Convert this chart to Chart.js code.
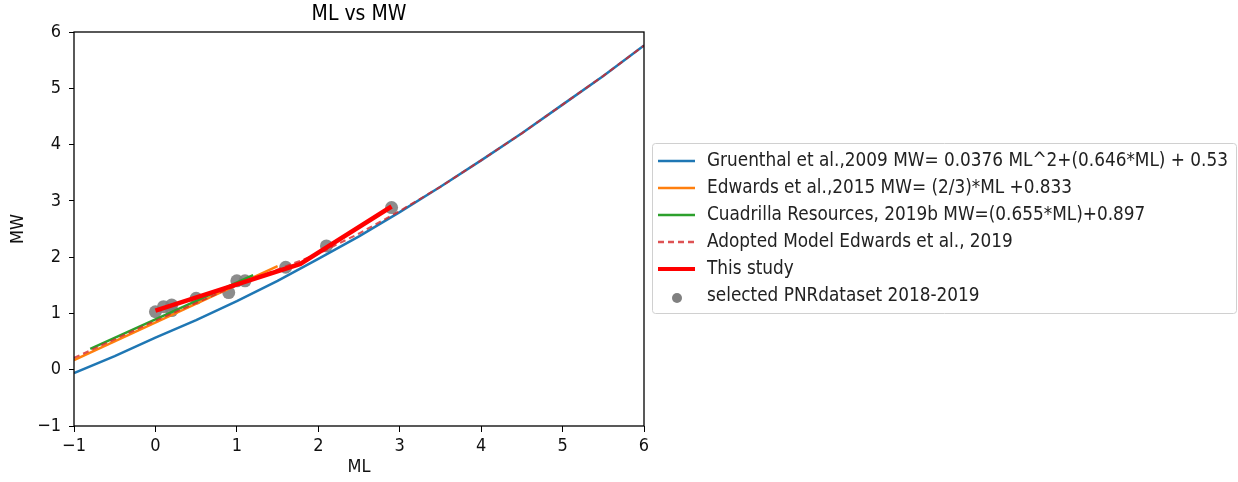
<!DOCTYPE html>
<html>
<head>
<meta charset="utf-8">
<script src="https://cdn.jsdelivr.net/npm/chart.js@4.4.1/dist/chart.umd.min.js"></script>
<style>
  html, body { margin: 0; padding: 0; background: #fff; }
  #wrap { width: 1238px; height: 482px; }
</style>
</head>
<body>
<div id="wrap"><canvas id="mlChart" width="1238" height="482"></canvas></div>
<script>
// ================= DATA =================
const gruenthalML = [-1, -0.5, 0, 0.5, 1, 1.5, 2, 2.5, 3, 3.5, 4, 4.5, 5, 5.5, 6];
const gruenthalMW = [-0.06, 0.24, 0.57, 0.88, 1.22, 1.58, 1.97, 2.37, 2.80, 3.25, 3.72, 4.20, 4.71, 5.22, 5.76];

const edwards15ML = [-1, 1.5];
const edwards15MW = [0.17, 1.84];

const cuadrillaML = [-0.8, 1.2];
const cuadrillaMW = [0.37, 1.68];

const adoptedML = [-1, 0, 1, 2, 2.5, 3, 3.5, 4, 4.5, 5, 5.5, 6];
const adoptedMW = [0.21, 0.87, 1.50, 2.06, 2.42, 2.82, 3.25, 3.72, 4.20, 4.71, 5.22, 5.76];

const studyML = [0, 1.78, 2.9];
const studyMW = [1.05, 1.88, 2.9];

const pnrML = [0, 0.1, 0.2, 0.2, 0.5, 0.9, 1.0, 1.1, 1.6, 2.1, 2.9];
const pnrMW = [1.03, 1.12, 1.15, 1.05, 1.27, 1.37, 1.58, 1.58, 1.82, 2.2, 2.88];

const tickValues = [-1, 0, 1, 2, 3, 4, 5, 6];

const labels = [
  "Gruenthal et al.,2009 MW= 0.0376 ML^2+(0.646*ML) + 0.53",
  "Edwards et al.,2015 MW= (2/3)*ML +0.833",
  "Cuadrilla Resources, 2019b MW=(0.655*ML)+0.897",
  "Adopted Model Edwards et al., 2019",
  "This study",
  "selected PNRdataset 2018-2019"
];

const toXY = (xs, ys) => xs.map((x, i) => ({ x: x, y: ys[i] }));
const minus = v => String(v).replace("-", "\u2212");
const FONT = "'DejaVu Sans Condensed', 'DejaVu Sans', sans-serif";
const DASHED_RED = "rgba(214,39,40,0.8)";

// ================= FRAME / TITLE / LEGEND =================
const framePlugin = {
  id: "frame",
  afterDraw(chart) {
    const ctx = chart.ctx;
    const a = chart.chartArea;
    ctx.save();
    ctx.strokeStyle = "#000";
    ctx.lineWidth = 1.3;
    ctx.strokeRect(a.left, a.top, a.right - a.left, a.bottom - a.top);

    // title
    ctx.fillStyle = "#000";
    ctx.font = "21px " + FONT;
    ctx.textAlign = "center";
    ctx.textBaseline = "middle";
    ctx.fillText("ML vs MW", (a.left + a.right) / 2, 15);

    // legend box
    const bx = 652, by = 143, bw = 585, bh = 170;
    ctx.fillStyle = "#fff";
    ctx.strokeStyle = "#d0d0d0";
    ctx.lineWidth = 1;
    ctx.beginPath();
    ctx.roundRect(bx + 0.5, by + 0.5, bw - 1, bh, 3);
    ctx.fill();
    ctx.stroke();

    const styles = [
      { c: "#1f77b4", w: 2.5, d: [] },
      { c: "#ff7f0e", w: 2.5, d: [] },
      { c: "#2ca02c", w: 2.5, d: [] },
      { c: DASHED_RED, w: 2.5, d: [6, 4] },
      { c: "#ff0000", w: 4, d: [] },
      null
    ];
    ctx.font = "18.8px " + FONT;
    ctx.textAlign = "left";
    labels.forEach((txt, i) => {
      const y = 161 + i * 27;
      const s = styles[i];
      if (s) {
        ctx.strokeStyle = s.c;
        ctx.lineWidth = s.w;
        ctx.setLineDash(s.d);
        ctx.beginPath();
        ctx.moveTo(658, y);
        ctx.lineTo(695, y);
        ctx.stroke();
        ctx.setLineDash([]);
      } else {
        ctx.fillStyle = "#808080";
        ctx.beginPath();
        ctx.arc(677, y + 2, 5, 0, Math.PI * 2);
        ctx.fill();
      }
      ctx.fillStyle = "#222";
      ctx.fillText(txt, 707, y);
    });
    ctx.restore();
  }
};

// ================= CHART =================
function lineSet(label, xs, ys, color, width, dash) {
  return {
    label: label,
    data: toXY(xs, ys),
    showLine: true,
    borderColor: color,
    backgroundColor: color,
    borderWidth: width,
    borderDash: dash || [],
    pointRadius: 0,
    tension: 0,
    fill: false
  };
}

window.onload = () => {
  new Chart(document.getElementById("mlChart"), {
    type: "scatter",
    data: {
      datasets: [
        lineSet(labels[4], studyML, studyMW, "#ff0000", 4.5),
        lineSet(labels[3], adoptedML, adoptedMW, DASHED_RED, 2, [6, 4]),
        lineSet(labels[2], cuadrillaML, cuadrillaMW, "#2ca02c", 2.5),
        lineSet(labels[1], edwards15ML, edwards15MW, "#ff7f0e", 2.5),
        lineSet(labels[0], gruenthalML, gruenthalMW, "#1f77b4", 2.5),
        {
          label: labels[5],
          data: toXY(pnrML, pnrMW),
          pointRadius: 6.5,
          pointBackgroundColor: "rgba(128,128,128,0.9)",
          pointBorderWidth: 0,
          showLine: false
        }
      ]
    },
    options: {
      responsive: false,
      animation: false,
      layout: { padding: { left: 0, top: 32, right: 594, bottom: 0 } },
      plugins: { legend: { display: false }, tooltip: { enabled: false } },
      scales: {
        x: {
          type: "linear",
          min: -1,
          max: 6,
          afterBuildTicks: s => { s.ticks = tickValues.map(v => ({ value: v })); },
          afterFit: s => { s.height = 56; },
          grid: { drawOnChartArea: false, drawTicks: true, tickLength: 6, color: "#000" },
          border: { display: false },
          ticks: { color: "#111", font: { family: FONT, size: 18 }, padding: 4, callback: minus },
          title: { display: true, text: "ML", color: "#111", font: { family: FONT, size: 18 }, padding: { top: 0, bottom: 4 } }
        },
        y: {
          type: "linear",
          min: -1,
          max: 6,
          afterBuildTicks: s => { s.ticks = tickValues.map(v => ({ value: v })); },
          afterFit: s => { s.width = 74; },
          grid: { drawOnChartArea: false, drawTicks: true, tickLength: 5, color: "#000" },
          border: { display: false },
          ticks: { color: "#111", font: { family: FONT, size: 18 }, padding: 8, callback: minus },
          title: { display: true, text: "MW", color: "#111", font: { family: FONT, size: 18 }, padding: { top: 8, bottom: 0 } }
        }
      }
    },
    plugins: [framePlugin]
  });
};
</script>
</body>
</html>
